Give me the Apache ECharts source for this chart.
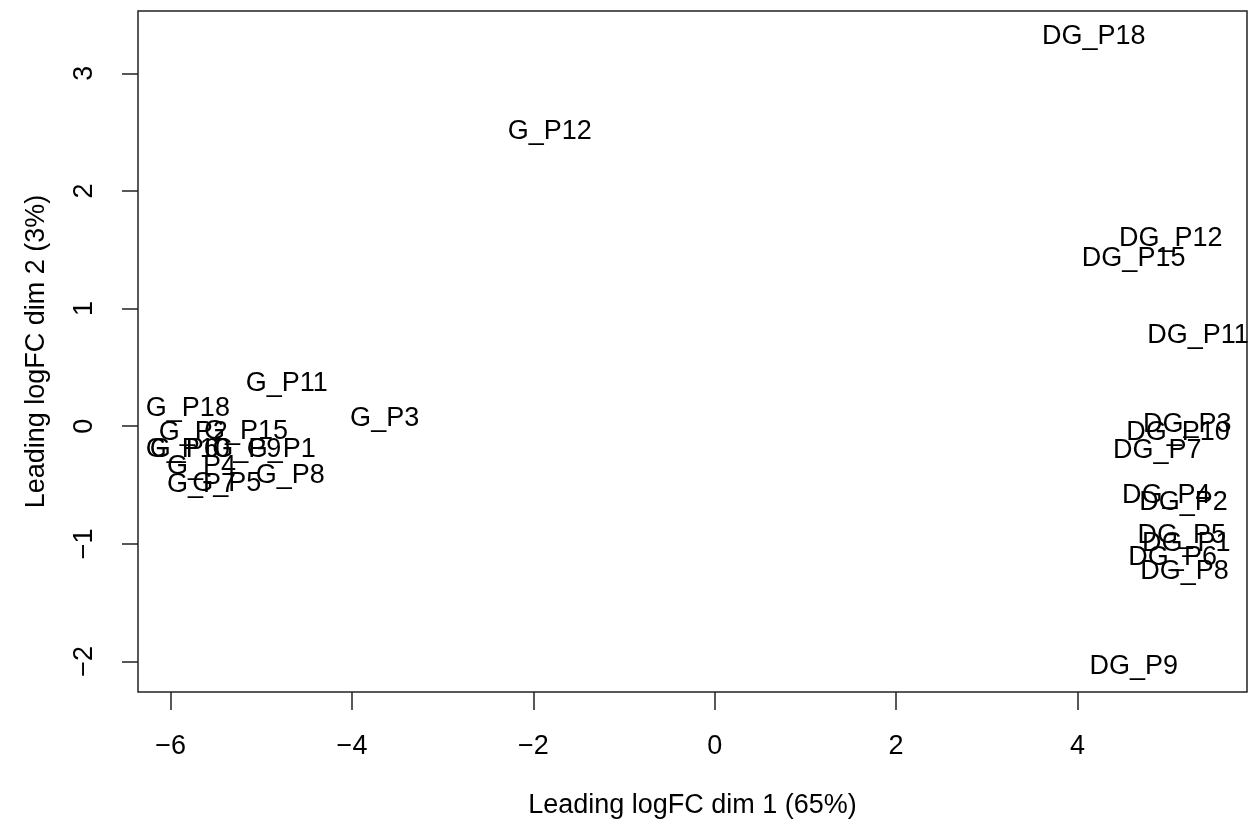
<!DOCTYPE html>
<html>
<head>
<meta charset="utf-8">
<script src="https://cdn.jsdelivr.net/npm/echarts@6/dist/echarts.min.js"></script>
<style>
  html, body { margin: 0; padding: 0; background: #fff; }
  #mds { width: 1249px; height: 827px; }
</style>
</head>
<body>
<div id="mds"></div>
<script>
// sample labels and their MDS coordinates (dim 1, dim 2)
const gNames = ['G_P1', 'G_P2', 'G_P3', 'G_P4', 'G_P5', 'G_P6', 'G_P7', 'G_P8',
  'G_P9', 'G_P10', 'G_P11', 'G_P12', 'G_P15', 'G_P18']
const gDim1 = [-4.78, -5.75, -3.64, -5.66, -5.38, -5.85, -5.66, -4.68,
  -5.16, -5.81, -4.72, -1.82, -5.17, -5.81]
const gDim2 = [-0.18, -0.04, 0.08, -0.33, -0.47, -0.18, -0.48, -0.40,
  -0.18, -0.18, 0.38, 2.52, -0.03, 0.17]

const dgNames = ['DG_P1', 'DG_P2', 'DG_P3', 'DG_P4', 'DG_P5', 'DG_P6', 'DG_P7', 'DG_P8',
  'DG_P9', 'DG_P10', 'DG_P11', 'DG_P12', 'DG_P15', 'DG_P18']
const dgDim1 = [5.20, 5.17, 5.21, 4.98, 5.15, 5.05, 4.88, 5.18,
  4.62, 5.11, 5.33, 5.03, 4.62, 4.18]
const dgDim2 = [-0.98, -0.63, 0.03, -0.57, -0.91, -1.10, -0.19, -1.22,
  -2.03, -0.04, 0.79, 1.61, 1.44, 3.33]

const xTicks = [-6, -4, -2, 0, 2, 4]
const yTicks = [-2, -1, 0, 1, 2, 3]

const font = 'Liberation Sans, Arial, Helvetica, sans-serif'
const fontSize = 27
const minus = v => String(v).replace('-', '\u2212')

const toPoints = (names, xs, ys) => names.map((name, i) => ({ name, value: [xs[i], ys[i]] }))

// R's plotMDS draws only the text, centred on each point
const labelSeries = (name, data) => ({
  name,
  type: 'scatter',
  data,
  symbolSize: 1,
  itemStyle: { color: 'rgba(0,0,0,0)', opacity: 1 },
  label: {
    show: true,
    position: 'inside',
    offset: [0, 2],
    formatter: p => p.name,
    color: '#000',
    fontFamily: font,
    fontSize
  },
  emphasis: { disabled: true }
})

const chart = echarts.init(document.getElementById('mds'))

chart.setOption({
  animation: false,
  backgroundColor: '#fff',
  grid: {
    left: 138,
    right: 2,
    top: 11,
    bottom: 135,
    show: true,
    borderColor: '#222',
    borderWidth: 1.5,
    backgroundColor: 'transparent'
  },
  xAxis: {
    type: 'value',
    min: -6.36,
    max: 5.87,
    name: 'Leading logFC dim 1 (65%)',
    nameLocation: 'middle',
    nameGap: 100,
    nameTextStyle: { color: '#000', fontFamily: font, fontSize },
    axisLine: { show: false, onZero: false },
    splitLine: { show: false },
    axisTick: {
      show: true,
      length: 18,
      customValues: xTicks,
      lineStyle: { color: '#222', width: 1.5 }
    },
    axisLabel: {
      customValues: xTicks,
      margin: 41,
      color: '#000',
      fontFamily: font,
      fontSize,
      formatter: minus
    }
  },
  yAxis: {
    type: 'value',
    min: -2.26,
    max: 3.53,
    name: 'Leading logFC dim 2 (3%)',
    nameLocation: 'middle',
    nameGap: 88,
    nameRotate: 90,
    nameTextStyle: { color: '#000', fontFamily: font, fontSize },
    axisLine: { show: false, onZero: false },
    splitLine: { show: false },
    axisTick: {
      show: true,
      length: 16,
      customValues: yTicks,
      lineStyle: { color: '#222', width: 1.5 }
    },
    axisLabel: {
      customValues: yTicks,
      rotate: 90,
      margin: 40,
      color: '#000',
      fontFamily: font,
      fontSize,
      formatter: minus
    }
  },
  series: [
    labelSeries('G', toPoints(gNames, gDim1, gDim2)),
    labelSeries('DG', toPoints(dgNames, dgDim1, dgDim2))
  ]
})
</script>
</body>
</html>
